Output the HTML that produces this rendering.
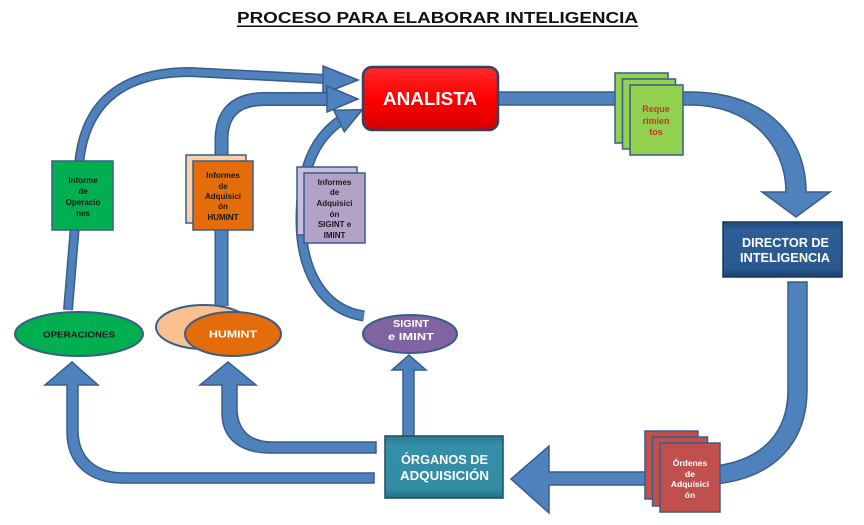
<!DOCTYPE html>
<html><head><meta charset="utf-8"><style>
html,body{margin:0;padding:0;background:#fff;}
svg{display:block;}
text{font-family:"Liberation Sans",Arial,sans-serif;font-weight:bold;}
</style></head><body>
<svg width="864" height="525" viewBox="0 0 864 525" xmlns="http://www.w3.org/2000/svg">
<defs>
<linearGradient id="gRed" x1="0" y1="0" x2="0" y2="1">
<stop offset="0" stop-color="#ff2a2a"/><stop offset="0.5" stop-color="#ff0000"/><stop offset="1" stop-color="#d80000"/>
</linearGradient>
<linearGradient id="gDir" x1="0" y1="0" x2="0" y2="1">
<stop offset="0" stop-color="#1f4a7c"/><stop offset="0.15" stop-color="#2d5e96"/><stop offset="0.85" stop-color="#2a5990"/><stop offset="1" stop-color="#1a3f6a"/>
</linearGradient>
<linearGradient id="gOrg" x1="0" y1="0" x2="0" y2="1">
<stop offset="0" stop-color="#2a7a90"/><stop offset="0.15" stop-color="#3390a8"/><stop offset="0.85" stop-color="#318ba3"/><stop offset="1" stop-color="#246f84"/>
</linearGradient>
</defs>

<!-- Title -->
<text x="237" y="23" font-size="16" fill="#111" textLength="401" lengthAdjust="spacingAndGlyphs">PROCESO PARA ELABORAR INTELIGENCIA</text>
<rect x="237" y="25.5" width="401" height="1.5" fill="#111"/>

<!-- Operaciones -> Analista (thin) -->
<path d="M68 310 L75 225" stroke="#385d8a" stroke-width="10" fill="none"/>
<path d="M68 310 L75 225" stroke="#4f81bd" stroke-width="7" fill="none"/>
<path d="M79 165 C84 105 120 72 190 72 L326 79" stroke="#385d8a" stroke-width="10" fill="none"/>
<path d="M79 165 C84 105 120 72 190 72 L326 79" stroke="#4f81bd" stroke-width="7" fill="none"/>
<polygon points="323,66 358,80 323,94" fill="#4f81bd" stroke="#385d8a" stroke-width="1.5"/>

<!-- HUMINT -> Analista -->
<path d="M221.5 306 L221.5 140 Q221.5 99 265 99 L329 99" stroke="#385d8a" stroke-width="14" fill="none"/>
<path d="M221.5 306 L221.5 140 Q221.5 99 265 99 L329 99" stroke="#4f81bd" stroke-width="11" fill="none"/>
<polygon points="327,86 358,99 327,112" fill="#4f81bd" stroke="#385d8a" stroke-width="1.5"/>

<!-- SIGINT -> Analista -->
<path d="M364 316 C322 310 301 270 301 220 C301 170 313 140 340 121" stroke="#385d8a" stroke-width="11" fill="none"/>
<path d="M364 316 C322 310 301 270 301 220 C301 170 313 140 340 121" stroke="#4f81bd" stroke-width="8" fill="none"/>
<polygon points="333.7,110.2 362.4,109.6 344.3,131.8" fill="#4f81bd" stroke="#385d8a" stroke-width="1.5"/>

<!-- Analista -> Director -->
<path d="M498 92 L690 92 C765 92 806 135 806 192 L830 192 L796 217 L762 192 L786 192 C786 145 750 105 690 105 L498 105 Z" fill="#4f81bd" stroke="#385d8a" stroke-width="1.5"/>

<!-- Director -> Ordenes -->
<path d="M788 282 L807 282 L807 390 C807 442 775 478 715 484 L715 466 C765 460 788 430 788 390 Z" fill="#4f81bd" stroke="#385d8a" stroke-width="1.5"/>

<!-- Ordenes -> Organos -->
<path d="M650 472 L549 472 L549 446 L511 479 L549 513 L549 485 L650 485 Z" fill="#4f81bd" stroke="#385d8a" stroke-width="1.5"/>

<!-- Organos -> SIGINT -->
<path d="M403 437 L403 370 L392 370 L409 355 L426 370 L414 370 L414 437 Z" fill="#4f81bd" stroke="#385d8a" stroke-width="1.5"/>

<!-- Organos -> HUMINT -->
<path d="M376 442 L272 442 C250 442 237 430 237 408 L237 385 L256 385 L228 362 L200 385 L222 385 L222 413 C222 440 242 453 270 453 L376 453 Z" fill="#4f81bd" stroke="#385d8a" stroke-width="1.5"/>

<!-- Organos -> Operaciones -->
<path d="M374 473 L125 473 C96 473 78 458 78 430 L78 385 L98 385 L72 362 L45 385 L67 385 L67 432 C67 465 90 483 122 483 L374 483 Z" fill="#4f81bd" stroke="#385d8a" stroke-width="1.5"/>

<!-- ANALISTA -->
<rect x="363" y="67" width="135" height="63" rx="9" fill="url(#gRed)" stroke="#2f4363" stroke-width="2.5"/>
<text x="383" y="105" font-size="18" fill="#fff" textLength="94" lengthAdjust="spacingAndGlyphs">ANALISTA</text>

<!-- Requerimientos docs -->
<rect x="615" y="73" width="53" height="70" fill="#92d050" stroke="#385d8a" stroke-width="1.5"/>
<rect x="622.5" y="79" width="53" height="70" fill="#92d050" stroke="#385d8a" stroke-width="1.5"/>
<rect x="630" y="85" width="53" height="70" fill="#92d050" stroke="#385d8a" stroke-width="1.5"/>
<g font-size="9" fill="#c0392b" text-anchor="middle">
<text x="656" y="112">Reque</text>
<text x="656" y="124">rimien</text>
<text x="656" y="135">tos</text>
</g>

<!-- Director -->
<rect x="723" y="222" width="119" height="55" fill="url(#gDir)" stroke="#17375e" stroke-width="1.5"/>
<text x="742" y="247" font-size="12.5" fill="#fff" textLength="87" lengthAdjust="spacingAndGlyphs">DIRECTOR DE</text>
<text x="740" y="262" font-size="12.5" fill="#fff" textLength="90" lengthAdjust="spacingAndGlyphs">INTELIGENCIA</text>

<!-- Ordenes docs -->
<rect x="645" y="431" width="53" height="68" fill="#c0504d" stroke="#385d8a" stroke-width="1.5"/>
<rect x="652.5" y="437" width="55" height="69" fill="#c0504d" stroke="#385d8a" stroke-width="1.5"/>
<rect x="660" y="443" width="60" height="69" fill="#c0504d" stroke="#385d8a" stroke-width="1.5"/>
<g font-size="8.5" fill="#fff" text-anchor="middle">
<text x="690" y="466">Órdenes</text>
<text x="690" y="477">de</text>
<text x="690" y="487">Adquisici</text>
<text x="690" y="498">ón</text>
</g>

<!-- Organos -->
<rect x="385" y="436" width="118" height="62" fill="url(#gOrg)" stroke="#1d4f5e" stroke-width="1.5"/>
<text x="401" y="464" font-size="12.5" fill="#fff" textLength="87" lengthAdjust="spacingAndGlyphs">ÓRGANOS DE</text>
<text x="400" y="480" font-size="12.5" fill="#fff" textLength="89" lengthAdjust="spacingAndGlyphs">ADQUISICIÓN</text>

<!-- Informe de Operaciones -->
<rect x="52" y="161" width="61" height="69" fill="#00b050" stroke="#385d8a" stroke-width="1.5"/>
<g font-size="8" fill="#1a1a1a" text-anchor="middle">
<text x="83" y="183">Informe</text>
<text x="83" y="194">de</text>
<text x="83" y="205">Operacio</text>
<text x="83" y="216">nes</text>
</g>

<!-- Informes HUMINT -->
<rect x="186" y="155" width="60" height="68" fill="#fbd0a8" stroke="#385d8a" stroke-width="1.5"/>
<rect x="193" y="161" width="60" height="69" fill="#e46c0a" stroke="#385d8a" stroke-width="1.5"/>
<g font-size="8" fill="#1a1a1a" text-anchor="middle">
<text x="223" y="178">Informes</text>
<text x="223" y="189">de</text>
<text x="223" y="199">Adquisici</text>
<text x="223" y="209">ón</text>
<text x="223" y="220">HUMINT</text>
</g>

<!-- Informes SIGINT -->
<rect x="297" y="167" width="60" height="68" fill="#c9bfdc" stroke="#385d8a" stroke-width="1.5"/>
<rect x="304" y="173" width="61" height="70" fill="#b3a2c7" stroke="#385d8a" stroke-width="1.5"/>
<g font-size="8" fill="#1a1a1a" text-anchor="middle">
<text x="334.5" y="185">Informes</text>
<text x="334.5" y="195">de</text>
<text x="334.5" y="206">Adquisici</text>
<text x="334.5" y="217">ón</text>
<text x="334.5" y="227">SIGINT e</text>
<text x="334.5" y="238">IMINT</text>
</g>

<!-- Ellipses -->
<ellipse cx="79" cy="334" rx="64" ry="22" fill="#00b050" stroke="#385d8a" stroke-width="2"/>
<text x="79" y="337.5" font-size="8.5" fill="#1a1a1a" text-anchor="middle" textLength="72" lengthAdjust="spacingAndGlyphs">OPERACIONES</text>

<ellipse cx="204" cy="327" rx="48" ry="22" fill="#fac090" stroke="#385d8a" stroke-width="2"/>
<ellipse cx="233" cy="334" rx="48" ry="22" fill="#e46c0a" stroke="#385d8a" stroke-width="2"/>
<text x="233" y="337.5" font-size="10" fill="#fff" text-anchor="middle" textLength="48" lengthAdjust="spacingAndGlyphs">HUMINT</text>

<ellipse cx="410" cy="334" rx="47" ry="19" fill="#8064a2" stroke="#385d8a" stroke-width="2"/>
<text x="411" y="327" font-size="10" fill="#fff" text-anchor="middle" textLength="36" lengthAdjust="spacingAndGlyphs">SIGINT</text>
<text x="411" y="340" font-size="10" fill="#fff" text-anchor="middle" textLength="46" lengthAdjust="spacingAndGlyphs">e  IMINT</text>
</svg>
</body></html>
